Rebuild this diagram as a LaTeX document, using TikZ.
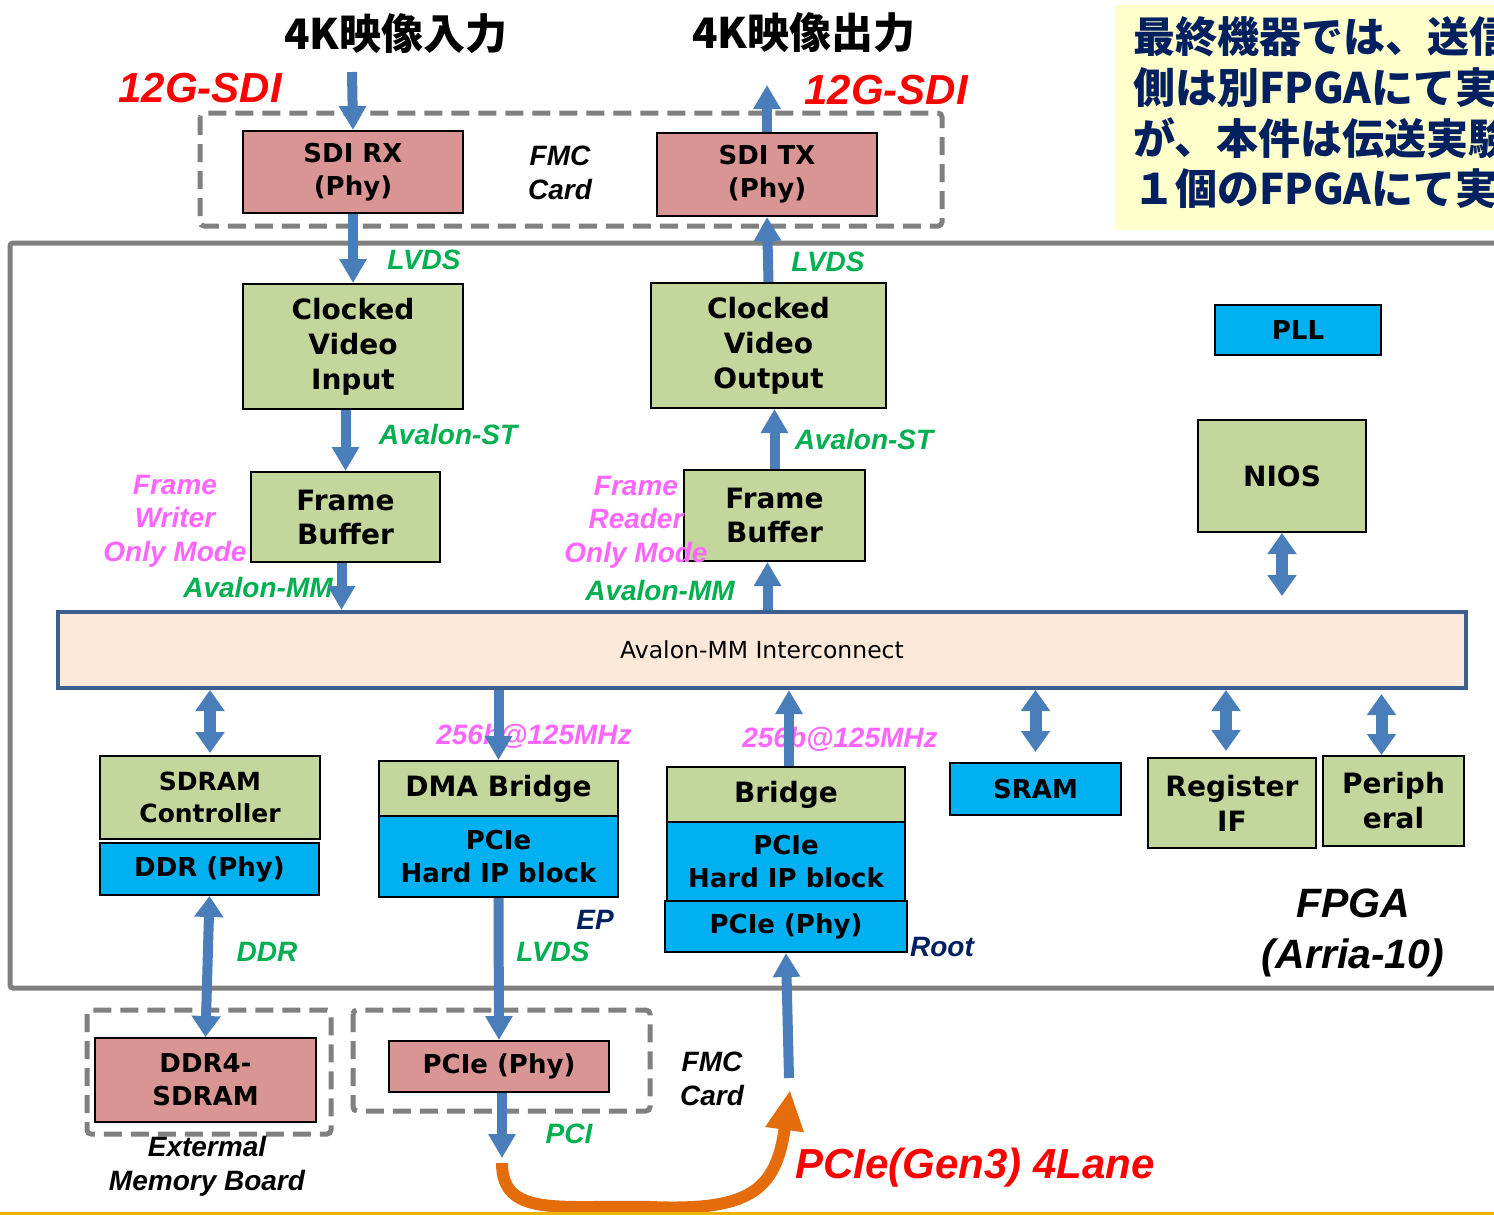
\documentclass[tikz,border=0pt]{standalone}
\usepackage{fontspec}
\setmainfont{DejaVu Sans}
\newfontfamily\labfont{Liberation Sans}
\newfontfamily\cjkfont{Noto Sans CJK JP}
\usetikzlibrary{arrows.meta,calc}
\definecolor{pinkfill}{HTML}{D99594}
\definecolor{grnfill}{HTML}{C3D69B}
\definecolor{bluefill}{HTML}{00B0F0}
\definecolor{arrblue}{HTML}{4A7EBB}
\definecolor{icfill}{HTML}{FDE9D9}
\definecolor{icdraw}{HTML}{3B5F8F}
\definecolor{grytxt}{HTML}{808080}
\definecolor{redtxt}{HTML}{FF0000}
\definecolor{grntxt}{HTML}{00B050}
\definecolor{pnktxt}{HTML}{FF66FF}
\definecolor{navytxt}{HTML}{002060}
\definecolor{orng}{HTML}{E46C0A}
\definecolor{notebg}{HTML}{FFFFCC}
\definecolor{goldline}{HTML}{EEB400}
\begin{document}
\begin{tikzpicture}[x=1pt,y=-1pt,
  boxbase/.style={draw=black, line width=2pt, align=center, inner sep=0pt,
    font=\fontsize{26}{33}\selectfont\bfseries},
  pinkbox/.style={boxbase, fill=pinkfill},
  grnbox/.style={boxbase, fill=grnfill},
  bluebox/.style={boxbase, fill=bluefill},
  lblbase/.style={inner sep=0pt, align=center, font=\fontsize{28}{34}\selectfont\labfont\bfseries\itshape},
  lblgrn/.style={lblbase, text=grntxt},
  lblpnk/.style={lblbase, text=pnktxt, font=\fontsize{28}{33.5}\selectfont\labfont\bfseries\itshape},
  lblblk/.style={lblbase, text=black},
  lblnavy/.style={lblbase, text=navytxt},
  lblred/.style={lblbase, text=redtxt, font=\fontsize{42}{48}\selectfont\labfont\bfseries\itshape},
  dashbox/.style={draw=grytxt, line width=5pt, dash pattern=on 18pt off 9pt, rounded corners=4pt},
  blk/.style={draw=arrblue, line width=10pt, -{Triangle[width=26pt,length=24pt]}},
  dbl/.style={draw=arrblue, line width=12pt, {Triangle[width=28pt,length=21pt]}-{Triangle[width=28pt,length=21pt]}},
  titlejp/.style={inner sep=0pt, font=\fontsize{42}{48}\selectfont\cjkfont\bfseries},
  notejp/.style={inner sep=0pt, anchor=west, text=navytxt, font=\fontsize{42}{50}\selectfont\cjkfont\bfseries}
]
\useasboundingbox (0,0) rectangle (1494,1215);

% note box
\fill[notebg] (1115,5) rectangle (1500,230);
\node[notejp] (note1) at (1133,37) {最終機器では、送信};
\node[notejp] (note2) at (1133,88) {側は別FPGAにて実};
\node[notejp] (note3) at (1133,138) {が、本件は伝送実験};
\node[notejp] (note4) at (1133,189) {１個のFPGAにて実};

% titles
\node[titlejp] (tin) at (396,34) {4K映像入力};
\node[titlejp] (tout) at (804,33) {4K映像出力};
\node[lblred] (sdi1) at (200,88) {12G-SDI};
\node[lblred] (sdi2) at (886,90) {12G-SDI};

% containers
\draw[grytxt, line width=5pt, rounded corners=3pt] (10,243) rectangle (1510,988);
\draw[dashbox] (200,113) rectangle (942,226);
\draw[dashbox] (87,1010) rectangle (331,1134);
\draw[dashbox] (353,1010) rectangle (650,1111);

% boxes
\node[pinkbox, minimum width=220, minimum height=82] (sdirx) at (353,172) {SDI RX\\(Phy)};
\node[pinkbox, minimum width=220, minimum height=83] (sditx) at (767,174.5) {SDI TX\\(Phy)};
\node[lblblk] (fmc1) at (560,173) {FMC\\Card};
\node[grnbox, minimum width=220, minimum height=125, font=\fontsize{28}{35}\selectfont\bfseries] (cvi) at (353,346.5) {Clocked\\Video\\Input};
\node[grnbox, minimum width=235, minimum height=125, font=\fontsize{28}{35}\selectfont\bfseries] (cvo) at (768.5,345.5) {Clocked\\Video\\Output};
\node[grnbox, minimum width=189, minimum height=90, font=\fontsize{28}{34}\selectfont\bfseries] (fbw) at (345.5,517) {Frame\\Buffer};
\node[grnbox, minimum width=181, minimum height=91, font=\fontsize{28}{34}\selectfont\bfseries] (fbr) at (774.5,515.5) {Frame\\Buffer};
\node[bluebox, minimum width=166, minimum height=50] (pll) at (1298,330) {PLL};
\node[grnbox, minimum width=168, minimum height=112, font=\fontsize{28}{34}\selectfont\bfseries] (nios) at (1282,476) {NIOS};
\node[draw=icdraw, line width=4pt, fill=icfill, minimum width=1408, minimum height=76, inner sep=0pt,
  font=\fontsize{23.5}{26}\selectfont] (ic) at (762,650) {Avalon-MM Interconnect};

\node[grnbox, minimum width=220, minimum height=83, font=\fontsize{25}{32}\selectfont\bfseries] (sdc) at (210,797.5) {SDRAM\\Controller};
\node[bluebox, minimum width=219, minimum height=52] (ddrphy) at (209.5,869) {DDR (Phy)};
\node[grnbox, minimum width=239, minimum height=55, font=\fontsize{28}{34}\selectfont\bfseries] (dma) at (498.5,788.5) {DMA Bridge};
\node[bluebox, minimum width=239, minimum height=81] (hip1) at (498.5,856.5) {PCIe\\Hard IP block};
\node[grnbox, minimum width=238, minimum height=55, font=\fontsize{28}{34}\selectfont\bfseries] (bridge) at (786,794.5) {Bridge};
\node[bluebox, minimum width=238, minimum height=79] (hip2) at (786,861.5) {PCIe\\Hard IP block};
\node[bluebox, minimum width=242, minimum height=51] (pphy2) at (786,926.5) {PCIe (Phy)};
\node[bluebox, minimum width=171, minimum height=52] (sram) at (1035.5,789) {SRAM};
\node[grnbox, minimum width=168, minimum height=90, font=\fontsize{28}{35}\selectfont\bfseries] (regif) at (1232,803) {Register\\IF};
\node[grnbox, minimum width=141, minimum height=90, font=\fontsize{28}{35}\selectfont\bfseries] (periph) at (1393.5,801) {Periph\\eral};
\node[pinkbox, minimum width=221, minimum height=84] (ddr4) at (205.5,1080) {DDR4-\\SDRAM};
\node[pinkbox, minimum width=220, minimum height=51] (pphy1) at (499,1066.5) {PCIe (Phy)};

% labels
\node[lblgrn] (lv1) at (424,260) {LVDS};
\node[lblgrn] (lv2) at (828,262) {LVDS};
\node[lblgrn] (ast1) at (448,434) {Avalon-ST};
\node[lblgrn] (ast2) at (864,439) {Avalon-ST};
\node[lblgrn] (amm1) at (258,587) {Avalon-MM};
\node[lblgrn] (amm2) at (660,590) {Avalon-MM};
\node[lblpnk] (fwm) at (175,521) {Frame\\Writer\\Only Mode};
\node[lblpnk] (frm) at (636,522) {Frame\\Reader\\Only Mode};
\node[lblpnk] (bw1) at (534,736) {256b@125MHz};
\node[lblpnk] (bw2) at (840,739) {256b@125MHz};
\node[lblnavy] (ep) at (595,920) {EP};
\node[lblgrn] (lv3) at (553,952) {LVDS};
\node[lblnavy] (root) at (942,947) {Root};
\node[lblgrn] (ddrl) at (267,952) {DDR};
\node[lblgrn] (pcil) at (569,1134) {PCI};
\node[lblblk] (fmc2) at (712,1078.5) {FMC\\Card};
\node[lblblk] (extm) at (207,1166.5) {Extermal\\Memory Board};
\node[lblblk, font=\fontsize{41}{51}\selectfont\labfont\bfseries\itshape] (fpga) at (1353,932.5) {FPGA\\(Arria-10)};
\node[lblred] (gen3) at (975,1168) {PCIe(Gen3) 4Lane};

% free ends
\coordinate (inTop) at (352,72);
\coordinate (outTop) at (767,85);
\coordinate (pciOut) at (502,1158);
\coordinate (rootIn) at (789,1078);
\coordinate (curveStart) at (502,1163);
\coordinate (curveEnd) at (790,1090);

% arrows
\draw[blk] (inTop) -- (sdirx.north);
\draw[blk] (sditx.north) -- (outTop);
\draw[blk] (sdirx.south) -- (cvi.north);
\draw[blk] (cvo.north) -- (sditx.south);
\draw[blk] (cvi.south -| fbw.north) -- (fbw.north);
\draw[blk] (fbr.north) -- (cvo.south -| fbr.north);
\draw[blk] ([xshift=-4]fbw.south) -- ([xshift=-4]fbw.south |- ic.north);
\draw[blk] ([xshift=-7]fbr.south |- ic.north) -- ([xshift=-7]fbr.south);
\draw[dbl, shorten >=14pt] (nios.south) -- (nios.south |- ic.north);
\draw[dbl, shorten >=2pt] (ic.south -| sdc.north) -- (sdc.north);
\draw[dbl, shorten >=10pt] (ic.south -| sram.north) -- (sram.north);
\draw[dbl, shorten >=6pt] ([xshift=-6]ic.south -| regif.north) -- ([xshift=-6]regif.north);
\draw[dbl, shorten <=4pt] ([xshift=-12]ic.south -| periph.north) -- ([xshift=-12]periph.north);
\draw[blk] (ic.south -| dma.north) -- (dma.north);
\draw[blk] ([xshift=3]bridge.north) -- ([xshift=3]bridge.north |- ic.south);
\draw[dbl, line width=10pt] (ddrphy.south) -- (ddr4.north);
\draw[blk] (hip1.south) -- (pphy1.north);
\draw[blk] ([xshift=3]pphy1.south) -- (pciOut);
\draw[blk] (rootIn) -- (pphy2.south);
\draw[orng, line width=12pt, -{Triangle[width=36pt,length=40pt]}]
  (curveStart) .. controls (502,1218) and (560,1205) .. (650,1207)
  .. controls (748,1211) and (776,1192) .. (curveEnd);

% bottom line
\draw[goldline, line width=3pt] (0,1213.5) -- (1494,1213.5);
\end{tikzpicture}
\end{document}
